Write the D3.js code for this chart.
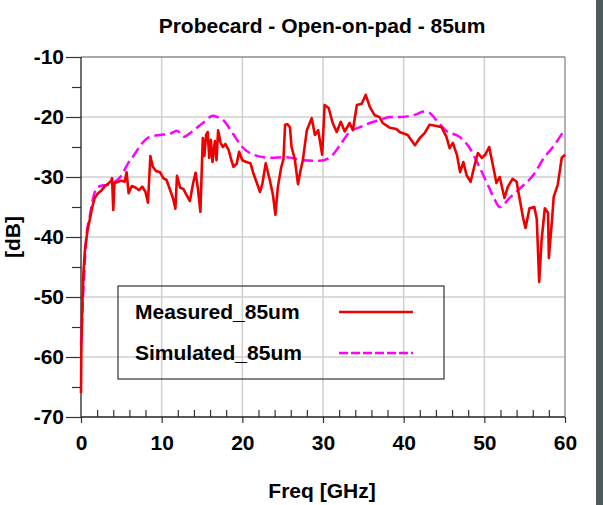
<!DOCTYPE html>
<html>
<head>
<meta charset="utf-8">
<script src="https://cdn.jsdelivr.net/npm/d3@7"></script>
<style>
  body { margin: 0; background: #fff; }
  svg { display: block; font-family: "Liberation Sans", Arial, sans-serif; font-weight: bold; }
</style>
</head>
<body>
<svg id="main" width="603" height="505"></svg>
<script>
// measured S-parameter, [freq GHz, dB]
var measured = [
  [0, -66], [0.05, -58], [0.15, -52], [0.3, -46], [0.5, -42], [0.8, -39], [1.1, -37], [1.4, -35],
  [1.7, -33.5], [2.1, -32.7], [2.5, -32.3], [2.9, -31.6], [3.3, -31.2], [3.75, -30.6], [3.85, -30.2],
  [4.0, -35.5], [4.15, -31], [4.6, -30.8], [5.0, -30.6], [5.4, -30.8], [5.65, -29.2], [5.9, -32.7],
  [6.3, -31.5], [6.8, -31.8], [7.2, -32.2], [7.6, -31.6], [8.0, -32.5], [8.3, -34.3], [8.6, -26.5],
  [8.9, -28.3], [9.3, -29], [9.8, -29.2], [10.2, -30.2], [10.6, -30.5], [11.0, -32], [11.4, -33.5],
  [11.7, -35.3], [11.9, -29.8], [12.3, -31.8], [12.7, -32], [13.0, -32.8], [13.5, -34], [13.9, -31],
  [14.2, -29.3], [14.5, -32], [14.8, -35.8], [15.1, -23.5], [15.3, -26.5], [15.5, -23], [15.7, -22.5],
  [15.9, -26.8], [16.1, -23.8], [16.3, -27.5], [16.6, -24], [16.8, -27.2], [17.0, -22.2], [17.3, -24.3],
  [17.6, -25], [17.9, -24.5], [18.3, -25.5], [18.6, -27], [18.9, -28.3], [19.3, -27.8], [19.6, -25.8],
  [20.0, -27.2], [20.5, -27.5], [21.0, -27.7], [21.4, -29.5], [21.8, -31], [22.2, -32.5], [22.5, -31],
  [22.9, -27.7], [23.4, -30.5], [23.8, -33], [24.1, -36.3], [24.4, -31.7], [24.8, -28.5], [25.1, -27],
  [25.3, -21.3], [25.6, -21.2], [25.9, -21.7], [26.1, -25], [26.5, -27], [26.9, -31.2], [27.2, -29],
  [27.5, -27.2], [28.0, -22.2], [28.6, -20.2], [29.0, -23], [29.4, -22.2], [29.9, -26.3], [30.2, -18],
  [30.7, -18.5], [31.2, -21], [31.7, -22.5], [32.2, -20.8], [32.7, -22.4], [33.3, -21], [33.7, -22.2],
  [34.2, -18], [34.8, -17.8], [35.3, -16.3], [35.8, -18.3], [36.4, -19.7], [37.0, -20], [37.4, -21],
  [38.3, -21.8], [39.1, -22], [39.5, -22.5], [40.5, -23], [41.4, -24.7], [42.0, -23.5], [42.6, -22.7],
  [43.2, -21.3], [44.1, -21.5], [44.7, -21.7], [45.3, -23.3], [45.7, -25.2], [46.1, -24.3], [46.6, -26.3],
  [47.0, -29.2], [47.4, -27.5], [47.8, -29.7], [48.3, -30.8], [48.8, -28], [49.2, -26], [49.7, -26.8],
  [50.1, -26.3], [50.6, -25], [51.1, -28.3], [51.5, -31], [51.9, -30], [52.5, -33.5], [52.9, -31.7],
  [53.5, -30.3], [54.0, -30.8], [54.4, -33.8], [54.8, -36.8], [55.1, -38.5], [55.6, -35.2], [56.2, -35],
  [56.5, -37], [56.8, -47.5], [57.1, -40.5], [57.5, -35.2], [57.9, -36], [58.0, -43.5], [58.4, -37],
  [58.6, -33.3], [59.1, -31.3], [59.6, -26.8], [60.0, -26.3]
]

// simulated, [freq GHz, dB]
var simulated = [
  [0, -58], [0.1, -55], [0.25, -50], [0.4, -46], [0.66, -40], [1.07, -36.7], [1.5, -33.5], [1.9, -32],
  [2.4, -31.5], [3.3, -31.3], [4.2, -30.8], [5.0, -29.8], [5.8, -27.8], [6.5, -26.5], [7.5, -24.5],
  [8.5, -23.3], [9.8, -23], [11.0, -22.8], [11.9, -22.3], [12.7, -23.3], [13.7, -22.5], [15.1, -21],
  [16.4, -19.8], [17.2, -20.2], [17.6, -20.5], [18.8, -22.7], [20.0, -25], [21.4, -26.3], [23.4, -26.8],
  [25.5, -26.7], [27.5, -27.2], [29.6, -27.3], [30.9, -26.7], [32.1, -24.7], [33.3, -22.5], [34.6, -21.7],
  [35.8, -21], [37.0, -20.5], [38.3, -20], [39.5, -20], [41.2, -19.7], [42.6, -19.1], [43.2, -19.3],
  [43.9, -20.3], [45.2, -22.2], [47.0, -23.4], [48.1, -25], [49.2, -27.8], [50.5, -31.5], [51.3, -33.8],
  [51.9, -35], [53.2, -33.4], [54.6, -31.7], [56.0, -29.8], [57.5, -26.6], [58.5, -25], [60, -22]
]

var xMajor = [0, 10, 20, 30, 40, 50, 60]
var xMinor = d3.range(2, 60, 2).filter(function(v) { return v % 10 !== 0 })
var yMajor = [-10, -20, -30, -40, -50, -60, -70]
var yMinor = [-15, -25, -35, -45, -55, -65]
var seriesNames = ["Measured_85um", "Simulated_85um"]

var pLeft = 81, pRight = 565, pTop = 57, pBottom = 417
var fs = 21

var svg = d3.select('#main')
var x = d3.scaleLinear().domain([0, 60]).range([pLeft, pRight])
var y = d3.scaleLinear().domain([-70, -10]).range([pBottom, pTop])

// dark strip on the right
svg.append('rect').attr('x', 596).attr('y', 0).attr('width', 7).attr('height', 505).attr('fill', '#4c5c5c')

// grid
svg.append('g').selectAll('line').data(xMajor.slice(1, -1)).enter().append('line')
    .attr('x1', function(d) { return x(d) }).attr('x2', function(d) { return x(d) })
    .attr('y1', pTop).attr('y2', pBottom)
    .attr('stroke', '#cfcfcf').attr('stroke-width', 1.5)
svg.append('g').selectAll('line').data(yMajor.slice(1, -1)).enter().append('line')
    .attr('y1', function(d) { return y(d) }).attr('y2', function(d) { return y(d) })
    .attr('x1', pLeft).attr('x2', pRight)
    .attr('stroke', '#cfcfcf').attr('stroke-width', 1.5)

// frame top / right
svg.append('line').attr('x1', pLeft).attr('x2', pRight).attr('y1', pTop).attr('y2', pTop)
    .attr('stroke', '#555').attr('stroke-width', 1.2)
svg.append('line').attr('x1', pRight).attr('x2', pRight).attr('y1', pTop).attr('y2', pBottom)
    .attr('stroke', '#999').attr('stroke-width', 1.5)

// axes (plain hyphen for negatives, like the original)
var fmt = function(d) { return String(d) }
svg.append('g').attr('transform', 'translate(' + pLeft + ',0)')
    .call(d3.axisLeft(y).tickValues(yMajor).tickSize(15).tickPadding(2).tickFormat(fmt))
svg.append('g').attr('transform', 'translate(' + pLeft + ',0)')
    .call(d3.axisLeft(y).tickValues(yMinor).tickSize(9).tickFormat(''))
svg.append('g').attr('transform', 'translate(0,' + pBottom + ')')
    .call(d3.axisBottom(x).tickValues(xMajor).tickSize(6).tickPadding(12).tickFormat(fmt))
svg.append('g').attr('transform', 'translate(0,' + pBottom + ')')
    .call(d3.axisTop(x).tickValues(xMinor).tickSize(7).tickFormat(''))

svg.selectAll('.domain').remove()
svg.selectAll('.tick line').attr('stroke', '#333').attr('stroke-width', 1.2)
svg.selectAll('.tick text').attr('font-size', fs).attr('font-family', null).attr('fill', '#000')

svg.append('line').attr('x1', pLeft).attr('x2', pLeft).attr('y1', pTop).attr('y2', pBottom)
    .attr('stroke', '#222').attr('stroke-width', 1.3)
svg.append('line').attr('x1', pLeft).attr('x2', pRight).attr('y1', pBottom).attr('y2', pBottom)
    .attr('stroke', '#222').attr('stroke-width', 1.3)

// curves
var line = d3.line()
    .x(function(d) { return x(d[0]) })
    .y(function(d) { return y(d[1]) })

svg.append('path').datum(simulated)
    .attr('d', line.curve(d3.curveMonotoneX))
    .attr('fill', 'none').attr('stroke', '#ff00ff').attr('stroke-width', 2.5)
    .attr('stroke-dasharray', '11,5')
svg.append('path').datum(measured)
    .attr('d', line.curve(d3.curveLinear))
    .attr('fill', 'none').attr('stroke', '#ee0000').attr('stroke-width', 2.6)
    .attr('stroke-linejoin', 'round')

// titles
svg.append('text').attr('x', 322).attr('y', 33).attr('text-anchor', 'middle')
    .attr('font-size', fs).text('Probecard - Open-on-pad - 85um')
svg.append('text').attr('x', 322).attr('y', 498).attr('text-anchor', 'middle')
    .attr('font-size', fs).text('Freq [GHz]')
svg.append('text').attr('transform', 'translate(20,237) rotate(-90)').attr('text-anchor', 'middle')
    .attr('font-size', fs).text('[dB]')

// legend
var legend = svg.append('g')
legend.append('rect').attr('x', 118).attr('y', 286).attr('width', 326).attr('height', 93)
    .attr('fill', 'none').attr('stroke', '#333').attr('stroke-width', 1.2)
var colors = ['#ee0000', '#ff00ff']
var dashes = [null, '9,3']
seriesNames.forEach(function(name, i) {
    legend.append('text').attr('x', 135).attr('y', 319 + i * 41)
        .attr('font-size', fs).text(name)
    legend.append('line').attr('x1', 339).attr('x2', 413)
        .attr('y1', 312 + i * 41).attr('y2', 312 + i * 41)
        .attr('stroke', colors[i]).attr('stroke-width', 2.5)
        .attr('stroke-dasharray', dashes[i])
})
</script>
</body>
</html>
